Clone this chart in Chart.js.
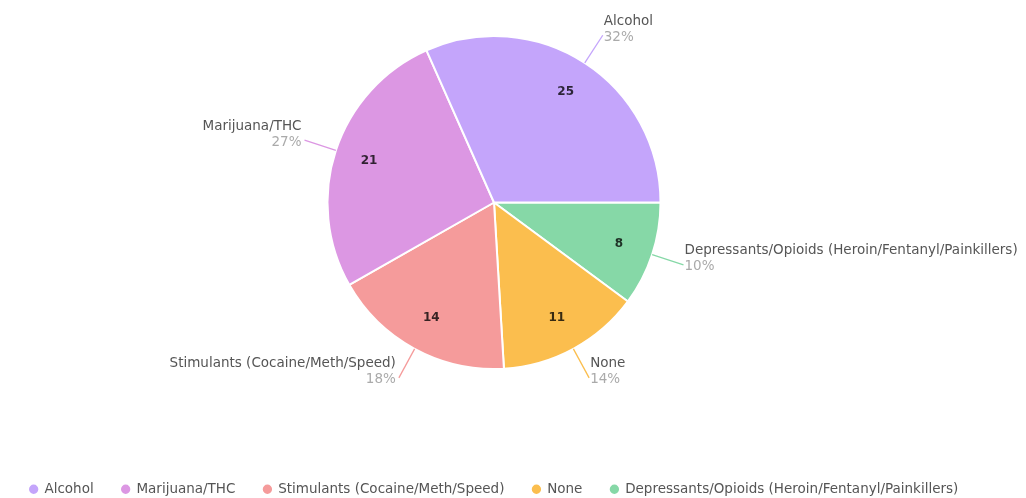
<!DOCTYPE html>
<html>
<head>
<meta charset="utf-8">
<script src="https://cdn.jsdelivr.net/npm/chart.js@4"></script>
<style>
  html, body { margin: 0; padding: 0; background: #fff; }
  #wrap { width: 1026px; height: 498px; }
</style>
</head>
<body>
<div id="wrap"><canvas id="drugPie"></canvas></div>
<script>
const categories = ['Alcohol', 'Marijuana/THC', 'Stimulants (Cocaine/Meth/Speed)', 'None', 'Depressants/Opioids (Heroin/Fentanyl/Painkillers)'];
const counts = [25, 21, 14, 11, 8];
const sliceColors = ['#c4a5fb', '#dc97e3', '#f59b9b', '#fbbe4e', '#86d8a7'];

const FONT = 'DejaVu Sans';

// names + percentages outside the pie, counts inside
const outsideLabels = {
  id: 'outsideLabels',
  afterDatasetsDraw(chart) {
    const ctx = chart.ctx;
    const ds = chart.data.datasets[0];
    const total = ds.data.reduce((a, b) => a + b, 0);
    chart.getDatasetMeta(0).data.forEach((arc, i) => {
      const {x, y, startAngle, endAngle, outerRadius} =
        arc.getProps(['x', 'y', 'startAngle', 'endAngle', 'outerRadius'], true);
      const mid = (startAngle + endAngle) / 2;
      const cos = Math.cos(mid), sin = Math.sin(mid);
      ctx.save();
      ctx.textBaseline = 'middle';
      ctx.textAlign = 'center';
      ctx.font = `bold 12px "${FONT}"`;
      ctx.fillStyle = 'rgba(0,0,0,0.78)';
      ctx.fillText(ds.data[i], x + cos * outerRadius * 0.79, y + sin * outerRadius * 0.79);

      const ax = x + cos * (outerRadius + 33), ay = y + sin * (outerRadius + 33);
      ctx.strokeStyle = ds.backgroundColor[i];
      ctx.lineWidth = 1.3;
      ctx.beginPath();
      ctx.moveTo(x + cos * outerRadius, y + sin * outerRadius);
      ctx.lineTo(ax, ay);
      ctx.stroke();

      const right = cos >= 0;
      const tx = ax + (right ? 1 : -3);
      ctx.textAlign = right ? 'left' : 'right';
      ctx.font = `13.5px "${FONT}"`;
      ctx.fillStyle = '#555';
      ctx.fillText(chart.data.labels[i], tx, ay - 14);
      ctx.fillStyle = '#aaa';
      ctx.fillText(Math.round(ds.data[i] / total * 100) + '%', tx, ay + 2);
      ctx.restore();
    });
  }
};

// the pie runs counter-clockwise from 3 o'clock, so feed it reversed
new Chart(document.getElementById('drugPie'), {
  type: 'pie',
  data: {
    labels: categories.slice().reverse(),
    datasets: [{
      data: counts.slice().reverse(),
      backgroundColor: sliceColors.slice().reverse(),
      borderColor: '#fff',
      borderWidth: 2
    }]
  },
  options: {
    responsive: true,
    maintainAspectRatio: false,
    animation: false,
    rotation: 90,
    layout: { padding: { top: 35, right: 38, bottom: -8, left: 0 } },
    plugins: {
      legend: {
        position: 'bottom',
        reverse: true,
        labels: {
          usePointStyle: true,
          pointStyle: 'circle',
          boxWidth: 8,
          boxHeight: 8,
          padding: 28,
          color: '#555',
          font: { family: FONT, size: 13.5 }
        }
      },
      subtitle: {
        display: true,
        position: 'bottom',
        weight: 500,
        text: '',
        font: { size: 10, lineHeight: 1 },
        padding: { top: 74.5, bottom: 0 }
      },
      tooltip: { enabled: false }
    }
  },
  plugins: [outsideLabels]
});
</script>
</body>
</html>
